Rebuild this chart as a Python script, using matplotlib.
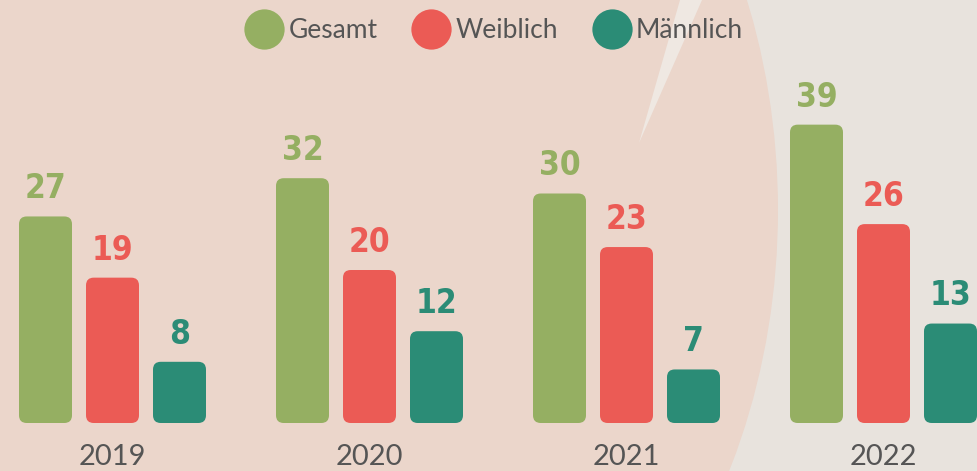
import matplotlib
matplotlib.use("Agg")
import matplotlib.pyplot as plt
from matplotlib.patches import FancyBboxPatch, Ellipse, Polygon
from matplotlib.lines import Line2D

years = ["2019", "2020", "2021", "2022"]
series_names = ["Gesamt", "Weiblich", "Männlich"]
gesamt = [27, 32, 30, 39]
weiblich = [19, 20, 23, 26]
maennlich = [8, 12, 7, 13]
colors = ["#95AF62", "#EB5B55", "#2B8C76"]

W, H = 978, 471
fig = plt.figure(figsize=(W / 100, H / 100), dpi=100)
fig.patch.set_facecolor("#E8E3DD")

# background shapes
fig.patches.append(Ellipse((288 / W, 1 - 210 / H), 980 / W, 1200 / H,
                           transform=fig.transFigure, facecolor="#EBD6CB",
                           edgecolor="none", zorder=-2))
fig.patches.append(Polygon([(680 / W, 1.0), (702 / W, 1.0), (639 / W, 1 - 143 / H)],
                           closed=True, transform=fig.transFigure,
                           facecolor="#EFE8E2", edgecolor="none", zorder=-1))

ax = fig.add_axes([0, 0, 1, 1])
ax.set_zorder(1)
ax.set_facecolor("none")
px_unit = 7.65
ax.set_xlim((0 - 112.5) / 257, (W - 112.5) / 257)
ax.set_ylim(-(H - 423) / px_unit, 423 / px_unit)
ax.axis("off")

offset = 67 / 257
width = 53 / 257
aspect = 257 / px_unit

for k, (vals, col) in enumerate(zip([gesamt, weiblich, maennlich], colors)):
    xs = [i + (k - 1) * offset for i in range(len(years))]
    bars = ax.bar(xs, vals, width=width, color=col)
    for b, v in zip(bars, vals):
        x0, y0 = b.get_x(), b.get_y()
        w, h = b.get_width(), b.get_height()
        b.remove()
        ax.add_patch(FancyBboxPatch((x0, y0), w, h,
                                    boxstyle="round,pad=0,rounding_size=0.03",
                                    mutation_aspect=aspect, facecolor=col,
                                    edgecolor="none", zorder=2))
        ax.annotate(str(v), (x0 + w / 2, v), xytext=(0, 8),
                    textcoords="offset points", ha="center", va="bottom",
                    fontsize=24, fontweight="bold", fontstretch="condensed",
                    color=col, family="DejaVu Sans", zorder=3)

for i, y in enumerate(years):
    ax.text(i, -(465 - 423) / px_unit, y, ha="center", va="baseline",
            fontsize=21, color="#555555", family="Lato")

handles = [Line2D([], [], marker="o", ls="", markersize=29, color=c,
                  markeredgewidth=0) for c in colors]
leg = fig.legend(handles, series_names, loc="upper center", ncol=3,
                 bbox_to_anchor=(0.506, 1.0), frameon=False,
                 prop={"family": "Lato", "size": 19},
                 handlelength=1.35, handletextpad=0.25, columnspacing=1.35,
                 borderaxespad=0.3)
for t in leg.get_texts():
    t.set_color("#555555")

fig.savefig("out.png", dpi=100, facecolor=fig.get_facecolor())
